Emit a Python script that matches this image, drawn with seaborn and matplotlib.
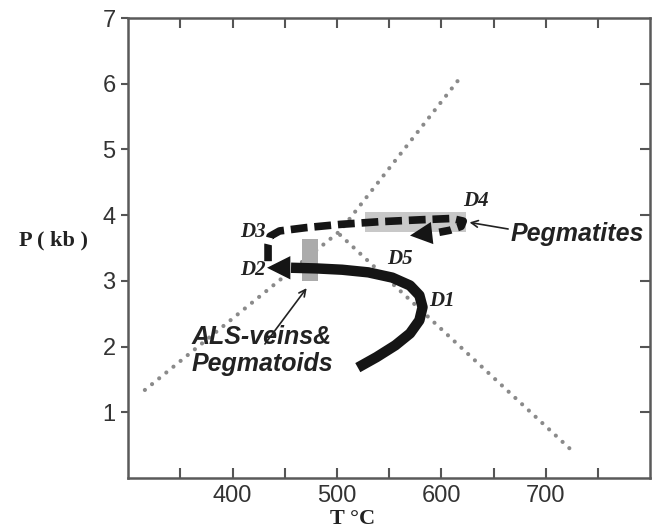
import seaborn as sns
import matplotlib.pyplot as plt

# reaction lines (dotted)
and_ky_sil_T = [316, 503, 616]
and_ky_sil_P = [1.34, 3.76, 6.05]
and_sil_T = [503, 729]
and_sil_P = [3.70, 0.36]

# solid P-T path D1 -> D2
solid_T = [520, 538, 556, 570, 579, 582, 579, 570, 553, 530, 505, 480, 456]
solid_P = [1.68, 1.84, 2.02, 2.20, 2.40, 2.60, 2.78, 2.93, 3.05, 3.13, 3.17, 3.19, 3.20]
solid_tip = (433, 3.20)

# dashed P-T path D2 -> D3 -> D4 -> D5
dash_T = [434, 434, 436, 445, 470, 503, 540, 580, 610, 621, 619, 608, 598]
dash_P = [3.30, 3.55, 3.68, 3.76, 3.81, 3.86, 3.90, 3.93, 3.95, 3.91, 3.83, 3.77, 3.74]
dash_tip = (570, 3.69)

# grey boxes
vein_T = [467, 482]
vein_P = [3.0, 3.64]
pegm_T = [527, 624]
pegm_P = [3.75, 4.05]

# stage labels
stage_names = ['D1', 'D2', 'D3', 'D4', 'D5']
stage_T = [601, 420, 420, 633, 560]
stage_P = [2.69, 3.17, 3.74, 4.21, 3.34]

sns.set_theme(style='ticks')
plt.rcParams['font.family'] = ['Liberation Sans', 'DejaVu Sans']

fig = plt.figure(figsize=(6.54, 5.32), dpi=100)
ax = fig.add_axes([0.196, 0.1015, 0.798, 0.8645])

dot = dict(color='#8a8a8a', lw=3, linestyle=(0, (0.01, 2.2)),
           dash_capstyle='round', sort=False, estimator=None, ax=ax)
sns.lineplot(x=and_ky_sil_T, y=and_ky_sil_P, **dot)
sns.lineplot(x=and_sil_T, y=and_sil_P, **dot)

ax.fill_between(vein_T, vein_P[0], vein_P[1], color='#ababab', lw=0, zorder=3)
ax.fill_between(pegm_T, pegm_P[0], pegm_P[1], color='#c8c8c8', lw=0, zorder=3)

sns.lineplot(x=solid_T, y=solid_P, sort=False, estimator=None, ax=ax,
             color='#151515', lw=7.5, solid_capstyle='butt', zorder=4)
ax.annotate('', xy=solid_tip, xytext=(solid_T[-1], solid_P[-1]),
            arrowprops=dict(arrowstyle='-|>', mutation_scale=42, lw=0,
                            color='#151515', shrinkA=0, shrinkB=0), zorder=5)

sns.lineplot(x=dash_T, y=dash_P, sort=False, estimator=None, ax=ax,
             color='#151515', lw=5.5, linestyle=(0, (2.2, 0.9)),
             dash_capstyle='butt', zorder=4)
ax.annotate('', xy=dash_tip, xytext=(dash_T[-1], dash_P[-1]),
            arrowprops=dict(arrowstyle='-|>', mutation_scale=40, lw=0,
                            color='#151515', shrinkA=0, shrinkB=0), zorder=5)

for name, t, p in zip(stage_names, stage_T, stage_P):
    ax.text(t, p, name, family='Liberation Serif', fontsize=15,
            fontweight='bold', fontstyle='italic', ha='center', va='center',
            color='#222222')

ax.text(666, 3.71, 'Pegmatites', fontsize=18, fontweight='bold',
        fontstyle='italic', ha='left', va='center', color='#222222')
ax.annotate('', xy=(627, 3.89), xytext=(664, 3.79),
            arrowprops=dict(arrowstyle='->', lw=1.2, color='#222222',
                            shrinkA=0, shrinkB=0))

ax.text(361, 1.94, 'ALS-veins&\nPegmatoids', fontsize=18, fontweight='bold',
        fontstyle='italic', ha='left', va='center', color='#222222',
        linespacing=1.15)
ax.annotate('', xy=(471, 2.89), xytext=(431, 2.04),
            arrowprops=dict(arrowstyle='->', lw=1.2, color='#222222',
                            shrinkA=0, shrinkB=0))

ax.set_xlim(300, 800)
ax.set_ylim(0, 7)
ax.set_xticks([400, 500, 600, 700])
ax.set_xticks([350, 450, 550, 650, 750], minor=True)
ax.set_yticks([1, 2, 3, 4, 5, 6, 7])
ax.tick_params(axis='x', which='both', direction='in', length=7, width=1.5,
               top=True, color='#555555', labelsize=17, labelcolor='#333333',
               pad=5)
ax.tick_params(axis='x', which='minor', labelbottom=False)
ax.tick_params(axis='y', direction='out', length=5, width=1.5,
               color='#555555', labelsize=17, labelcolor='#333333', pad=4)

right = ax.secondary_yaxis('right')
right.set_yticks([1, 2, 3, 4, 5, 6])
right.tick_params(direction='in', length=7, width=1.5, color='#555555',
                  labelright=False)
right.spines['right'].set_visible(False)

for s in ax.spines.values():
    s.set_visible(True)
    s.set_color('#5a5a5a')
    s.set_linewidth(1.8)

ax.set_xlabel('T °C', family='Liberation Serif', fontsize=16,
              fontweight='bold', color='#222222')
ax.xaxis.set_label_coords(0.43, -0.068)
ax.set_ylabel('P ( kb )', family='Liberation Serif', fontsize=16,
              fontweight='bold', color='#222222', rotation=0)
ax.yaxis.set_label_coords(-0.143, 0.495)

fig.savefig('out.png', dpi=100)
